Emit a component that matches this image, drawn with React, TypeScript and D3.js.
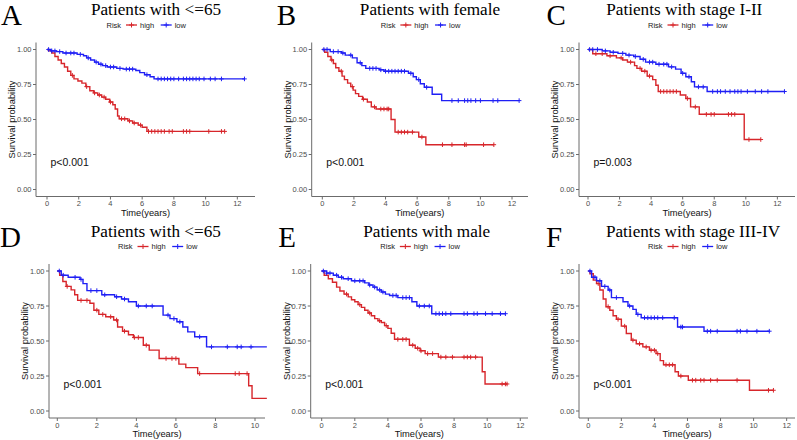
import React from 'react'
import * as d3 from 'd3'

// KM step data: [time, survival after drop], censor times, last follow-up
const aHighSteps = [[0.1,0.99],[0.3,0.975],[0.5,0.95],[0.7,0.925],[0.9,0.9],[1.1,0.875],[1.3,0.845],[1.5,0.815],[1.7,0.79],[1.95,0.775],[2.2,0.76],[2.45,0.735],[2.7,0.705],[2.95,0.69],[3.2,0.675],[3.45,0.66],[3.7,0.645],[3.95,0.625],[4.15,0.605],[4.3,0.575],[4.45,0.525],[4.55,0.505],[5.1,0.49],[5.4,0.475],[5.75,0.46],[6.0,0.445],[6.3,0.415]]
const aHighCensor = [1.6,2.5,3.0,3.3,3.6,4.0,4.7,4.9,5.2,5.5,5.9,6.4,6.6,6.8,7.0,7.2,7.4,7.7,7.9,8.6,8.8,9.0,10.2,11.0,11.2]
const aLowSteps = [[0.25,0.99],[0.6,0.985],[1.0,0.975],[1.9,0.965],[2.3,0.955],[2.5,0.94],[2.75,0.925],[3.0,0.91],[3.25,0.895],[3.5,0.885],[3.8,0.875],[4.4,0.865],[4.8,0.86],[5.6,0.85],[5.85,0.835],[6.15,0.82],[6.5,0.805],[6.75,0.79]]
const aLowCensor = [0.1,0.3,0.5,0.8,1.2,1.5,1.7,2.1,2.6,3.1,3.4,3.7,4.0,4.2,4.6,5.0,5.2,5.4,6.3,7.0,7.2,7.4,7.6,7.8,8.0,8.3,8.6,8.8,9.0,9.2,9.4,9.6,9.9,10.3,10.6,11.0,12.45]

const bHighSteps = [[0.15,0.98],[0.35,0.95],[0.55,0.925],[0.7,0.9],[0.85,0.87],[1.05,0.845],[1.25,0.81],[1.4,0.785],[1.6,0.76],[1.8,0.735],[1.95,0.71],[2.1,0.685],[2.3,0.665],[2.55,0.645],[2.85,0.625],[3.1,0.59],[3.4,0.575],[4.35,0.5],[4.6,0.41],[6.1,0.375],[6.55,0.32]]
const bHighCensor = [0.6,1.2,1.9,2.6,3.3,3.7,3.9,4.1,4.2,4.8,5.0,5.2,5.4,5.7,6.3,7.6,8.2,9.0,9.1,10.2,10.85]
const bLowSteps = [[0.5,0.985],[1.2,0.975],[1.45,0.96],[1.9,0.94],[2.2,0.905],[2.5,0.885],[2.75,0.865],[3.6,0.855],[3.9,0.845],[5.45,0.83],[5.75,0.805],[5.95,0.785],[6.2,0.755],[6.45,0.73],[6.95,0.68],[7.55,0.635]]
const bLowCensor = [0.1,0.3,0.7,1.0,1.3,1.8,2.4,3.0,3.2,3.4,3.7,4.0,4.2,4.4,4.6,4.8,5.0,5.2,5.6,6.1,6.6,8.2,8.6,9.0,9.2,9.4,9.7,10.0,10.8,11.1,12.45]

const cHighSteps = [[0.3,0.97],[1.2,0.955],[1.8,0.94],[2.2,0.925],[2.5,0.91],[2.95,0.885],[3.1,0.865],[3.4,0.845],[3.75,0.81],[4.1,0.785],[4.3,0.745],[4.45,0.7],[5.85,0.675],[6.2,0.65],[6.5,0.59],[7.05,0.537],[9.9,0.357]]
const cHighCensor = [0.5,0.9,1.4,2.1,2.7,3.3,3.6,3.9,4.6,4.8,5.0,5.2,5.4,5.6,6.3,6.8,7.5,7.8,8.0,8.9,9.1,9.3,10.2,10.95]
const cLowSteps = [[0.9,0.99],[1.4,0.98],[1.9,0.972],[2.4,0.96],[2.9,0.95],[3.3,0.93],[3.65,0.91],[4.3,0.895],[5.1,0.876],[5.55,0.86],[5.9,0.83],[6.2,0.805],[6.55,0.77],[6.75,0.733],[7.55,0.7]]
const cLowCensor = [0.1,0.3,0.6,1.1,1.6,2.2,2.6,3.0,3.5,3.9,4.1,4.5,4.8,5.0,5.3,6.0,6.4,7.0,7.3,7.9,8.2,8.4,8.7,9.0,9.3,9.5,9.7,10.1,10.6,11.0,11.4,12.45]

const dHighSteps = [[0.12,0.97],[0.28,0.925],[0.45,0.89],[0.7,0.865],[0.88,0.83],[1.03,0.79],[1.65,0.77],[1.85,0.72],[2.1,0.69],[2.45,0.673],[2.85,0.65],[3.05,0.6],[3.3,0.57],[3.6,0.545],[3.85,0.525],[4.35,0.47],[4.65,0.435],[5.15,0.375],[6.15,0.335],[6.5,0.31],[7.1,0.267],[9.68,0.18],[9.85,0.09]]
const dHighCensor = [0.5,1.2,1.5,2.0,2.3,2.7,3.0,3.4,3.9,4.1,4.5,5.5,5.8,6.0,7.2,9.0,9.2,9.6]
const dLowSteps = [[0.2,0.97],[0.55,0.955],[1.15,0.94],[1.3,0.91],[1.5,0.86],[2.25,0.83],[2.9,0.816],[3.25,0.8],[3.6,0.78],[4.0,0.75],[5.35,0.685],[5.7,0.66],[6.05,0.637],[6.35,0.6],[6.6,0.565],[6.95,0.53],[7.55,0.458]]
const dLowCensor = [0.1,0.3,0.9,1.2,1.7,2.0,2.4,3.0,3.4,4.1,4.5,4.8,5.6,5.9,6.2,7.2,7.8,8.6,9.1,9.3,9.8]
const dEnd = 10.6

const eHighSteps = [[0.15,0.97],[0.4,0.945],[0.65,0.92],[0.9,0.885],[1.1,0.857],[1.35,0.835],[1.6,0.815],[1.8,0.795],[2.0,0.78],[2.2,0.76],[2.4,0.74],[2.6,0.72],[2.8,0.7],[3.0,0.68],[3.2,0.66],[3.4,0.645],[3.6,0.632],[3.8,0.61],[4.0,0.59],[4.2,0.555],[4.4,0.512],[5.3,0.47],[5.65,0.448],[5.95,0.43],[6.25,0.41],[7.05,0.385],[9.7,0.28],[9.87,0.193]]
const eHighCensor = [1.5,2.3,2.9,3.5,3.9,4.6,4.9,5.1,5.5,5.8,6.0,6.4,6.7,7.2,7.5,7.9,8.6,8.8,9.0,9.3,10.9,11.1,11.2]
const eLowSteps = [[0.3,0.985],[0.7,0.97],[1.0,0.955],[1.3,0.945],[1.8,0.93],[2.6,0.915],[2.85,0.9],[3.1,0.885],[3.35,0.865],[3.6,0.85],[3.85,0.835],[4.1,0.825],[4.6,0.81],[5.45,0.78],[5.75,0.75],[6.65,0.695]]
const eLowCensor = [0.1,0.3,0.5,0.9,1.2,1.6,2.0,2.3,2.5,2.9,3.2,3.5,3.7,4.3,4.5,4.9,5.1,5.3,5.9,6.2,6.5,6.9,7.1,7.3,7.5,7.8,8.6,8.8,9.2,9.4,9.9,10.3,10.8,11.1]

const fHighSteps = [[0.1,0.98],[0.3,0.935],[0.5,0.91],[0.7,0.864],[0.9,0.8],[1.07,0.745],[1.3,0.72],[1.5,0.68],[1.7,0.655],[2.0,0.606],[2.3,0.554],[2.6,0.506],[2.9,0.48],[3.3,0.458],[3.7,0.434],[4.1,0.41],[4.35,0.36],[4.55,0.33],[5.25,0.28],[5.45,0.25],[6.05,0.22],[9.75,0.148]]
const fHighCensor = [0.6,1.2,1.8,2.2,2.7,3.1,3.5,3.8,4.0,4.2,4.7,4.9,5.1,5.6,6.3,6.5,6.8,7.0,7.4,7.8,9.0,10.9,11.2]
const fLowSteps = [[0.2,0.955],[0.5,0.93],[0.8,0.89],[1.2,0.864],[1.4,0.81],[2.1,0.78],[2.4,0.75],[2.7,0.726],[2.9,0.69],[3.2,0.666],[5.4,0.6],[7.0,0.57]]
const fLowCensor = [0.1,0.4,0.7,1.0,1.3,1.7,2.5,3.0,3.4,3.6,3.8,4.0,4.2,4.5,5.2,5.6,5.7,7.2,7.4,7.8,9.0,9.2,9.6,10.2,10.95]

const panelLetters = ['A', 'B', 'C', 'D', 'E', 'F']
const panelTitles = ['Patients with <=65', 'Patients with female', 'Patients with stage I-II', 'Patients with <=65', 'Patients with male', 'Patients with stage III-IV']
const pValues = ['p<0.001', 'p<0.001', 'p=0.003', 'p<0.001', 'p<0.001', 'p<0.001']
const yTicks = [0, 0.25, 0.5, 0.75, 1]
const riskLabels = ['high', 'low']

const RED = '#D7262B'
const BLUE = '#1F1FF5'
const SANS = 'Liberation Sans, Arial, sans-serif'
const SERIF = 'Liberation Serif, Times New Roman, serif'

const curves = [
  [{ steps: aHighSteps, censor: aHighCensor }, { steps: aLowSteps, censor: aLowCensor }],
  [{ steps: bHighSteps, censor: bHighCensor }, { steps: bLowSteps, censor: bLowCensor }],
  [{ steps: cHighSteps, censor: cHighCensor }, { steps: cLowSteps, censor: cLowCensor }],
  [{ steps: dHighSteps, censor: dHighCensor, end: dEnd }, { steps: dLowSteps, censor: dLowCensor, end: dEnd }],
  [{ steps: eHighSteps, censor: eHighCensor }, { steps: eLowSteps, censor: eLowCensor }],
  [{ steps: fHighSteps, censor: fHighCensor }, { steps: fLowSteps, censor: fLowCensor }],
]

// layout: panel origin, axis extent, pixel of t=0, px per year
const layout = [
  { ox: 0, oy: 0, left: 36, right: 255, x0: 47, ppy: 15.86, xMax: 12, titleX: 156, letterX: 1 },
  { ox: 265, oy: 0, left: 46.7, right: 263, x0: 57.3, ppy: 15.81, xMax: 12, titleX: 165, letterX: 11.7 },
  { ox: 530, oy: 0, left: 49, right: 265, x0: 58, ppy: 15.78, xMax: 12, titleX: 154.3, letterX: 16.5 },
  { ox: 0, oy: 221.5, left: 49, right: 265, x0: 57.3, ppy: 19.77, xMax: 10, titleX: 155.8, letterX: 0 },
  { ox: 265, oy: 221.5, left: 45.7, right: 263, x0: 56.7, ppy: 16.55, xMax: 12, titleX: 161.7, letterX: 13.3 },
  { ox: 530, oy: 221.5, left: 49, right: 265, x0: 58.3, ppy: 16.53, xMax: 12, titleX: 163, letterX: 16 },
]

const survAt = (steps, t) => {
  const i = d3.bisector(d => d[0]).right(steps, t)
  return i === 0 ? 1 : steps[i - 1][1]
}

const Panel = ({ idx }) => {
  const L = layout[idx]
  const x = d3.scaleLinear()
    .domain([(L.left - L.x0) / L.ppy, (L.right - L.x0) / L.ppy])
    .range([L.left, L.right])
  const y = d3.scaleLinear().domain([-0.05, 1.05]).range([196.5, 42.5])
  const xTicks = d3.range(0, L.xMax + 1, 2)
  const line = d3.line().x(d => x(d[0])).y(d => y(d[1])).curve(d3.curveStepAfter)
  const fmt = d3.format('.2f')
  const cx = (L.left + L.right) / 2
  const colors = [RED, BLUE]

  return (
    <g transform={`translate(${L.ox},${L.oy})`}>
      <text x={L.letterX} y={25} fontFamily={SERIF} fontSize={29}>{panelLetters[idx]}</text>
      <text x={L.titleX} y={15.3} fontFamily={SERIF} fontSize={17.2} textAnchor="middle">{panelTitles[idx]}</text>

      {/* legend */}
      <g fontFamily={SANS} fontSize={7.5} fill="#222">
        <text x={cx - 39} y={27.7}>Risk</text>
        {riskLabels.map((r, i) => {
          const kx = cx + (i === 0 ? -19.5 : 15.2)
          return (
            <g key={r}>
              <line x1={kx} x2={kx + 11} y1={25} y2={25} stroke={colors[i]} strokeWidth={1.3} />
              <path d={`M${kx + 3},25H${kx + 8}M${kx + 5.5},22.5V27.5`} stroke={colors[i]} strokeWidth={1} />
              <text x={kx + 14} y={27.7}>{r}</text>
            </g>
          )
        })}
      </g>

      {/* axes */}
      <line x1={L.left} x2={L.left} y1={y(1.05)} y2={y(-0.05)} stroke="#6b6b6b" strokeWidth={1} />
      <line x1={L.left} x2={L.right} y1={y(-0.05)} y2={y(-0.05)} stroke="#6b6b6b" strokeWidth={1} />
      {yTicks.map(t => (
        <g key={t}>
          <line x1={L.left - 3} x2={L.left} y1={y(t)} y2={y(t)} stroke="#6b6b6b" />
          <text x={L.left - 4.5} y={y(t) + 2.7} textAnchor="end" fontFamily={SANS} fontSize={7.5} fill="#4d4d4d">{fmt(t)}</text>
        </g>
      ))}
      {xTicks.map(t => (
        <g key={t}>
          <line x1={x(t)} x2={x(t)} y1={y(-0.05)} y2={y(-0.05) + 3} stroke="#6b6b6b" />
          <text x={x(t)} y={y(-0.05) + 9.8} textAnchor="middle" fontFamily={SANS} fontSize={7.5} fill="#4d4d4d">{t}</text>
        </g>
      ))}
      <text x={(L.left + L.right) / 2} y={215.5} textAnchor="middle" fontFamily={SANS} fontSize={9.3} fill="#111">Time(years)</text>
      <text transform={`translate(${L.left - 21},${(y(1.05) + y(-0.05)) / 2}) rotate(-90)`} textAnchor="middle" fontFamily={SANS} fontSize={9.3} fill="#111">Survival probability</text>

      {/* curves */}
      {curves[idx].map((c, i) => {
        const end = c.end ?? d3.max(c.censor)
        const pts = [[0, 1], ...c.steps, [end, c.steps[c.steps.length - 1][1]]]
        return (
          <g key={i} stroke={colors[i]} fill="none">
            <path d={line(pts)} strokeWidth={1.4} />
            {c.censor.filter(t => t <= end).map((t, k) => {
              const px = x(t), py = y(survAt(c.steps, t))
              return <path key={k} d={`M${px - 2.3},${py}H${px + 2.3}M${px},${py - 2.3}V${py + 2.3}`} strokeWidth={1} />
            })}
          </g>
        )
      })}

      <text x={L.left + 14.5} y={y(0.25) + 11.5} fontFamily={SANS} fontSize={10.5} fill="#111">{pValues[idx]}</text>
    </g>
  )
}

export default function App() {
  return (
    <svg width={797} height={440} style={{ position: 'absolute', left: 0, top: 0, background: '#fff' }}>
      <rect width={797} height={440} fill="#fff" />
      {layout.map((_, i) => <Panel key={i} idx={i} />)}
    </svg>
  )
}
